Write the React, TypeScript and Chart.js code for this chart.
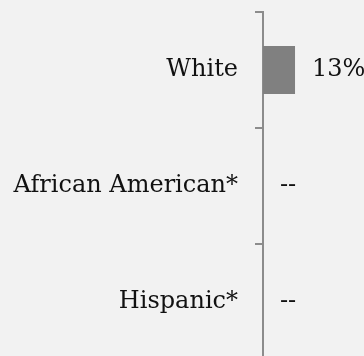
import React, { useEffect, useRef } from "react";
import { Chart, registerables } from "chart.js";

Chart.register(...registerables);

const categories = ["White", "African American*", "Hispanic*"];
const values: (number | null)[] = [13, null, null];
const missingLabel = "--";

const FONT = "'DejaVu Serif', serif";

const valueLabelPlugin = {
  id: "valueLabels",
  afterDatasetsDraw(chart: any) {
    const { ctx, scales } = chart;
    const xs = scales.x;
    const ys = scales.y;
    ctx.save();
    ctx.font = `24px ${FONT}`;
    ctx.fillStyle = "#111111";
    ctx.textAlign = "left";
    ctx.textBaseline = "middle";
    values.forEach((v, i) => {
      const x = xs.getPixelForValue(v ?? 0) + 17;
      const y = ys.getPixelForValue(i);
      ctx.fillText(v == null ? missingLabel : `${v}%`, x, y);
    });
    ctx.restore();
  },
};

export default function App() {
  const ref = useRef<HTMLCanvasElement>(null);
  useEffect(() => {
    if (!ref.current) return;
    const chart = new Chart(ref.current, {
      type: "bar",
      data: {
        labels: categories,
        datasets: [
          {
            data: values as any,
            backgroundColor: "#808080",
            borderWidth: 0,
            categoryPercentage: 1,
            barPercentage: 0.414,
          },
        ],
      },
      options: {
        indexAxis: "y",
        responsive: false,
        animation: false,
        devicePixelRatio: 1,
        layout: { padding: { top: 12, bottom: 12, left: 0, right: 0 } },
        plugins: {
          legend: { display: false },
          tooltip: { enabled: false },
        },
        scales: {
          x: { display: false, min: 0, max: 41 },
          y: {
            type: "category",
            afterFit: (scale: any) => {
              scale.width = 263;
              scale.paddingTop = 0;
              scale.paddingBottom = 0;
            },
            grid: {
              offset: true,
              drawOnChartArea: false,
              drawTicks: true,
              tickLength: 8,
              color: "#8c8c8c",
              lineWidth: 2,
            },
            border: { display: true, color: "#8c8c8c", width: 2 },
            ticks: {
              padding: 17,
              color: "#111111",
              font: { family: FONT, size: 24 },
            },
          },
        },
      },
      plugins: [valueLabelPlugin],
    });
    return () => chart.destroy();
  }, []);
  return (
    <div
      style={{
        position: "fixed",
        left: 0,
        top: 0,
        width: 364,
        height: 356,
        overflow: "hidden",
        background: "#f2f2f2",
      }}
    >
      <canvas ref={ref} width={364} height={372} style={{ display: "block" }} />
    </div>
  );
}
